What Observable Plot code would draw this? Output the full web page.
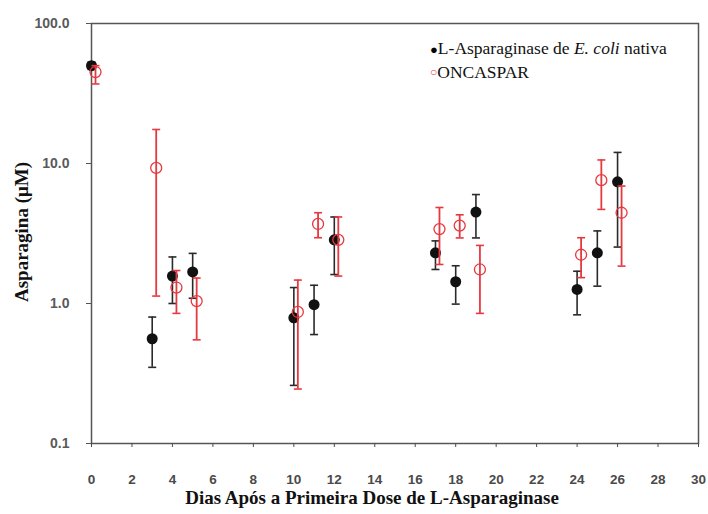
<!DOCTYPE html>
<html>
<head>
<meta charset="utf-8">
<script src="https://cdn.jsdelivr.net/npm/d3@7"></script>
<script src="https://cdn.jsdelivr.net/npm/@observablehq/plot@0.6"></script>
<style>
  body { margin: 0; background: #fff; }
  #wrap { position: relative; width: 708px; height: 514px; overflow: hidden; }
  .serif { font-family: "Liberation Serif", "DejaVu Serif", serif; color: #111; position: absolute; white-space: nowrap; }
  #legend { left: 430px; top: 37px; font-size: 17.5px; line-height: 22px; }
  #legend .m1 { font-size: 13px; color: #000; }
  #legend .m2 { font-size: 12px; color: #e6393f; vertical-align: 2px; }
  #xtitle { left: 0; width: 744px; text-align: center; top: 489px; font-size: 19px; line-height: 17px; font-weight: bold; }
  #ytitle { left: 22px; top: 232px; font-size: 19px; line-height: 22px; font-weight: bold; transform: translate(-50%, -50%) rotate(-90deg); }
</style>
</head>
<body>
<div id="wrap"></div>
<script>
// Days after first dose
const days = [0, 3, 4, 5, 10, 11, 12, 17, 18, 19, 24, 25, 26];
// L-Asparaginase de E. coli nativa
const nativaMean = [50, 0.56, 1.57, 1.68, 0.79, 0.98, 2.85, 2.3, 1.43, 4.5, 1.26, 2.3, 7.4];
const nativaLow  = [47, 0.35, 1.0, 1.09, 0.26, 0.6, 1.61, 1.75, 0.99, 2.94, 0.83, 1.33, 2.53];
const nativaHigh = [53, 0.8, 2.15, 2.28, 1.3, 1.35, 4.15, 2.8, 1.86, 6.0, 1.7, 3.3, 12.0];
// ONCASPAR
const oncMean = [45, 9.3, 1.3, 1.04, 0.87, 3.7, 2.85, 3.4, 3.6, 1.75, 2.23, 7.6, 4.45];
const oncLow  = [37, 1.13, 0.85, 0.55, 0.245, 2.95, 1.57, 1.9, 2.94, 0.85, 1.53, 4.7, 1.85];
const oncHigh = [50, 17.5, 1.72, 1.52, 1.47, 4.45, 4.15, 4.85, 4.3, 2.6, 2.95, 10.6, 6.9];
// Axis ticks
const xTicks = [0, 2, 4, 6, 8, 10, 12, 14, 16, 18, 20, 22, 24, 26, 28, 30];
const yTicks = [0.1, 1, 10, 100];

const nativa = days.map((d, i) => ({day: d, mean: nativaMean[i], low: nativaLow[i], high: nativaHigh[i]}));
const onc = days.map((d, i) => ({day: d, mean: oncMean[i], low: oncLow[i], high: oncHigh[i]}));

const cap = {draw(ctx, size) { ctx.moveTo(-4, 0); ctx.lineTo(4, 0); }};

const BLACK = "#2a2a2a";
const RED = "#e6393f";
const OFF = 4;

const chart = Plot.plot({
  width: 708,
  height: 514,
  marginLeft: 91,
  marginRight: 10,
  marginTop: 23,
  marginBottom: 71,
  style: {background: "#fff", overflow: "visible"},
  x: {domain: [0, 30]},
  y: {type: "log", domain: [0.1, 100]},
  marks: [
    Plot.frame({stroke: "#555", strokeWidth: 1.5}),
    Plot.axisX({ticks: xTicks, tickSize: 4, tickPadding: 27, label: null, tickFormat: d => String(d),
      fontSize: 13.5, fontWeight: "bold", color: "#4a4a4a",
      fontFamily: "Liberation Sans, Arial, sans-serif"}),
    Plot.axisY({ticks: yTicks, tickSize: 5, label: null, tickFormat: () => "", color: "#555"}),
    Plot.text(yTicks, {y: d => d, frameAnchor: "left", dx: -22, textAnchor: "end", text: d => d.toFixed(1),
      fontSize: 14, fontWeight: "bold", fill: "#5a5a5a",
      fontFamily: "Liberation Sans, Arial, sans-serif"}),
    // nativa error bars
    Plot.ruleX(nativa, {x: "day", y1: "low", y2: "high", stroke: BLACK, strokeWidth: 1.6}),
    Plot.dot(nativa, {x: "day", y: "low", symbol: cap, stroke: BLACK, strokeWidth: 1.6, fill: "none"}),
    Plot.dot(nativa, {x: "day", y: "high", symbol: cap, stroke: BLACK, strokeWidth: 1.6, fill: "none"}),
    Plot.dot(nativa, {x: "day", y: "mean", r: 5.5, fill: "#111", stroke: "none"}),
    // ONCASPAR error bars
    Plot.ruleX(onc, {x: "day", y1: "low", y2: "high", dx: OFF, stroke: RED, strokeWidth: 1.8}),
    Plot.dot(onc, {x: "day", y: "low", dx: OFF, symbol: cap, stroke: RED, strokeWidth: 1.6, fill: "none"}),
    Plot.dot(onc, {x: "day", y: "high", dx: OFF, symbol: cap, stroke: RED, strokeWidth: 1.6, fill: "none"}),
    Plot.dot(onc, {x: "day", y: "mean", dx: OFF, r: 5.5, fill: "none", stroke: RED, strokeWidth: 1.3})
  ]
});

const wrap = document.getElementById("wrap");
wrap.appendChild(chart);

const legend = document.createElement("div");
legend.id = "legend";
legend.className = "serif";
legend.innerHTML = '<div><span class="m1">●</span>L-Asparaginase de <i>E. coli</i> nativa</div>' +
                   '<div><span class="m2">○</span>ONCASPAR</div>';
wrap.appendChild(legend);

const xt = document.createElement("div");
xt.id = "xtitle"; xt.className = "serif";
xt.textContent = "Dias Após a Primeira Dose de L-Asparaginase";
wrap.appendChild(xt);

const yt = document.createElement("div");
yt.id = "ytitle"; yt.className = "serif";
yt.textContent = "Asparagina (μM)";
wrap.appendChild(yt);
</script>
</body>
</html>
